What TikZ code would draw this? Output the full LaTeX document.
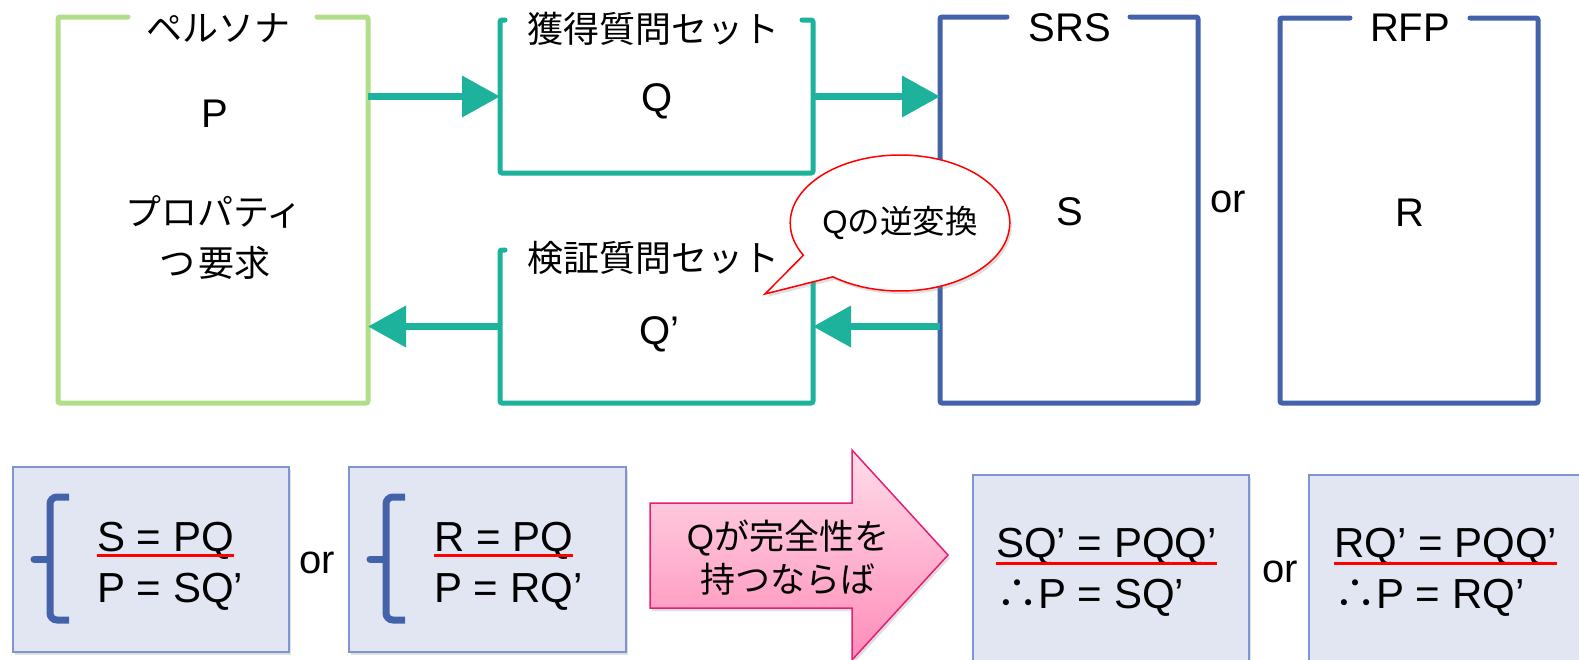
\documentclass[tikz,border=0pt]{standalone}
\usepackage{fontspec}
\setmainfont{Liberation Sans}
\newfontfamily\jp{Noto Sans CJK JP}
\usetikzlibrary{arrows.meta,shapes.callouts,shadows}
\definecolor{pgreen}{RGB}{178,222,137}
\definecolor{pteal}{RGB}{29,178,155}
\definecolor{pblue}{RGB}{68,98,170}
\definecolor{eqfill}{RGB}{226,230,243}
\definecolor{eqborder}{RGB}{125,150,210}
\definecolor{pinkline}{RGB}{230,30,120}
\definecolor{pinktop}{RGB}{255,220,232}
\definecolor{pinkbot}{RGB}{255,140,185}
\begin{document}
\begin{tikzpicture}[x=1pt,y=-1pt,
  frame/.style={line width=5pt, rounded corners=2pt, line cap=round},
  area/.style={inner sep=0pt, outer sep=0pt, minimum width=#1},
  flow/.style={draw=pteal, line width=7pt, -{Triangle[length=38pt,width=40pt]}},
  lat/.style={font=\fontsize{40}{48}\selectfont, inner sep=0pt},
  jpt/.style={font=\jp\fontsize{36}{44}\selectfont, inner sep=0pt},
  eqbox/.style={draw=eqborder, fill=eqfill, line width=1.5pt, inner sep=0pt,
    drop shadow={shadow xshift=2pt, shadow yshift=-3pt, opacity=0.25}},
  eq/.style={font=\fontsize{42}{50}\selectfont, inner sep=0pt, anchor=base west},
  uline/.style={draw=red, line width=3pt},
  bracketline/.style={draw=pblue, line width=7pt, rounded corners=7pt}]
\fill[white] (0,0) rectangle (1579,659);
\useasboundingbox (0,0) rectangle (1579,659);

% area nodes
\node[area=310pt, minimum height=386pt] (persona) at (213,210) {};
\node[area=313pt, minimum height=153pt] (qset) at (656.5,96.5) {};
\node[area=313pt, minimum height=153pt] (qpset) at (656.5,326.5) {};
\node[area=258pt, minimum height=386pt] (srs) at (1069,210) {};
\node[area=258pt, minimum height=385pt] (rfp) at (1409,210.5) {};

% frames
\draw[frame, pgreen] ([xshift=70pt]persona.north west) -- (persona.north west) -- (persona.south west) -- (persona.south east) -- (persona.north east) -- ([xshift=-51pt]persona.north east);
\draw[frame, pteal] ([xshift=5pt]qset.north west) -- (qset.north west) -- (qset.south west) -- (qset.south east) -- (qset.north east) -- ([xshift=-11pt]qset.north east);
\draw[frame, pteal] ([xshift=5pt]qpset.north west) -- (qpset.north west) -- (qpset.south west) -- (qpset.south east) -- (qpset.north east) -- ([xshift=-11pt]qpset.north east);
\draw[frame, pblue] ([xshift=67pt]srs.north west) -- (srs.north west) -- (srs.south west) -- (srs.south east) -- (srs.north east) -- ([xshift=-68pt]srs.north east);
\draw[frame, pblue] ([xshift=70pt]rfp.north west) -- (rfp.north west) -- (rfp.south west) -- (rfp.south east) -- (rfp.north east) -- ([xshift=-68pt]rfp.north east);

% connectors
\draw[flow] (persona.east |- qset.west) -- (qset.west);
\draw[flow] (qset.east) -- (qset.east -| srs.west);
\draw[flow] (srs.west |- qpset.east) -- (qpset.east);
\draw[flow] (qpset.west) -- (qpset.west -| persona.east);

% labels
\node[jpt] (tPersona) at (218,28) {ペルソナ};
\node[lat, anchor=base] (tP) at (215,127) {P};
\node[jpt] (tProp) at (214,212) {プロパティ};
\node[jpt] (tReq) at (215,263) {つ\kern3pt 要求};
\node[jpt] (tQset) at (653,29) {獲得質問セット};
\node[lat, anchor=base] (tQ) at (657,111) {Q};
\node[jpt] (tQpset) at (653,258) {検証質問セット};
\node[lat, anchor=base] (tQp) at (659,344) {Q’};
\node[lat, anchor=base] (tSRS) at (1070,41) {SRS};
\node[lat, anchor=base] (tS) at (1070,225) {S};
\node[lat, anchor=base] (tRFP) at (1410,41) {RFP};
\node[lat, anchor=base] (tR) at (1410,226) {R};
\node[lat, anchor=base] (tor1) at (1228,212) {or};

% callout
\node[ellipse callout, draw=red, line width=1.5pt, fill=white, inner sep=0pt,
  minimum width=214pt, minimum height=136pt,
  callout absolute pointer={(765,294)}, callout pointer arc=24,
  drop shadow={shadow xshift=2pt, shadow yshift=-3pt, opacity=0.25},
  font=\fontsize{32.5}{38}\selectfont] (rev) at (900,223) {Q{\jp の逆変換}};

% bottom boxes
\node[eqbox, minimum width=276pt, minimum height=185pt] (b1) at (151,559.5) {};
\node[eqbox, minimum width=277pt, minimum height=185pt] (b2) at (487.5,559.5) {};
\node[eqbox, minimum width=276pt, minimum height=190pt] (b3) at (1111,570) {};
\node[eqbox, minimum width=276pt, minimum height=190pt] (b4) at (1447,570) {};

% brackets
\draw[bracketline] (69,497) -- (50,497) -- (50,620) -- (69,620);
\draw[bracketline, line cap=round] (34,559) -- (47,559);
\draw[bracketline] (405,497) -- (386,497) -- (386,620) -- (405,620);
\draw[bracketline, line cap=round] (370,559) -- (383,559);

% equations
\node[eq] (e1a) at (97,551) {S = PQ};
\node[eq] (e1b) at (97,602) {P = SQ’};
\node[eq] (e2a) at (434,551) {R = PQ};
\node[eq] (e2b) at (434,602) {P = RQ’};
\node[eq] (e3a) at (996,557) {SQ’ = PQQ’};
\node[eq] (e3b) at (996,608) {{\jp ∴}P = SQ’};
\node[eq] (e4a) at (1334,557) {RQ’ = PQQ’};
\node[eq] (e4b) at (1334,608) {{\jp ∴}P = RQ’};
\draw[uline] ([yshift=-4pt]e1a.base west) -- ([yshift=-4pt]e1a.base east);
\draw[uline] ([yshift=-4pt]e2a.base west) -- ([yshift=-4pt]e2a.base east);
\draw[uline] ([yshift=-6pt]e3a.base west) -- ([yshift=-6pt]e3a.base east);
\draw[uline] ([yshift=-6pt]e4a.base west) -- ([yshift=-6pt]e4a.base east);
\node[lat, anchor=base] (tor2) at (317,573) {or};
\node[lat, anchor=base] (tor3) at (1280,582) {or};

% pink arrow
\path[draw=pinkline, line width=1.5pt, top color=pinktop, bottom color=pinkbot,
  drop shadow={shadow xshift=2pt, shadow yshift=-3pt, opacity=0.25}]
  (650,503) -- (852,503) -- (852,450) -- (948,555) -- (852,660) -- (852,608) -- (650,608) -- cycle;
\node[align=center, inner sep=0pt, font=\fontsize{35}{43}\selectfont] (cond) at (788,558) {Q{\jp が完全性を}\\{\jp 持つならば}};
\end{tikzpicture}
\end{document}
